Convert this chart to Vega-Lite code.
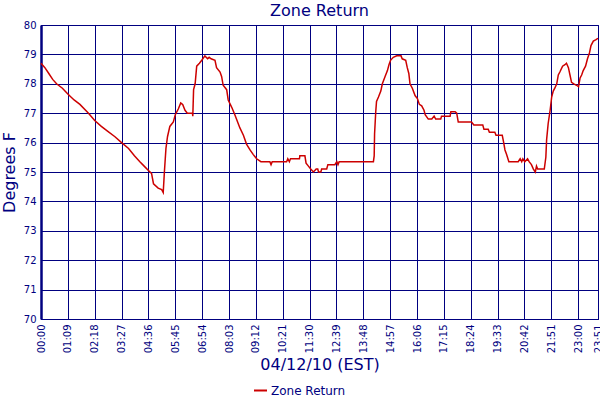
{
  "$schema": "https://vega.github.io/schema/vega-lite/v6.json",
  "width": 557,
  "height": 294,
  "autosize": "none",
  "padding": {"left": 41, "top": 25, "right": 2, "bottom": 81},
  "background": "white",
  "title": {
    "text": "Zone Return",
    "font": "DejaVu Sans",
    "fontSize": 16,
    "fontWeight": "normal",
    "color": "#000080",
    "anchor": "middle",
    "offset": 1
  },
  "config": {
    "view": {"stroke": "#000080", "strokeWidth": 1},
    "axis": {
      "labelFont": "DejaVu Sans",
      "labelFontSize": 10,
      "labelColor": "#000080",
      "titleFont": "DejaVu Sans",
      "titleFontSize": 16,
      "titleFontWeight": "normal",
      "titleColor": "#000080",
      "gridColor": "#000080",
      "gridOpacity": 1,
      "gridWidth": 1,
      "domainColor": "#000080",
      "ticks": false
    }
  },
  "data": {
    "values": [
      {"min": 0, "temp": 78.7}, {"min": 10, "temp": 78.55}, {"min": 20, "temp": 78.35},
      {"min": 30, "temp": 78.15}, {"min": 40, "temp": 78.0}, {"min": 55, "temp": 77.85},
      {"min": 69, "temp": 77.65}, {"min": 85, "temp": 77.45}, {"min": 100, "temp": 77.3},
      {"min": 122, "temp": 77.0}, {"min": 138, "temp": 76.75}, {"min": 155, "temp": 76.55},
      {"min": 170, "temp": 76.4}, {"min": 190, "temp": 76.2}, {"min": 207, "temp": 76.0},
      {"min": 225, "temp": 75.8}, {"min": 240, "temp": 75.55}, {"min": 254, "temp": 75.35},
      {"min": 265, "temp": 75.2}, {"min": 276, "temp": 75.05}, {"min": 284, "temp": 74.95},
      {"min": 289, "temp": 74.6}, {"min": 301, "temp": 74.45}, {"min": 310, "temp": 74.4},
      {"min": 314, "temp": 74.3}, {"min": 317, "temp": 75.0}, {"min": 321, "temp": 75.8},
      {"min": 325, "temp": 76.2}, {"min": 331, "temp": 76.55}, {"min": 340, "temp": 76.7},
      {"min": 345, "temp": 76.95}, {"min": 353, "temp": 77.15}, {"min": 359, "temp": 77.35},
      {"min": 364, "temp": 77.3}, {"min": 370, "temp": 77.1}, {"min": 376, "temp": 77.0},
      {"min": 389, "temp": 77.0}, {"min": 390, "temp": 76.9}, {"min": 392, "temp": 77.8},
      {"min": 396, "temp": 78.0}, {"min": 400, "temp": 78.6}, {"min": 407, "temp": 78.7},
      {"min": 413, "temp": 78.8}, {"min": 421, "temp": 78.95}, {"min": 428, "temp": 78.85},
      {"min": 432, "temp": 78.9}, {"min": 437, "temp": 78.85}, {"min": 447, "temp": 78.8},
      {"min": 451, "temp": 78.55}, {"min": 460, "temp": 78.4}, {"min": 464, "temp": 78.25},
      {"min": 468, "temp": 77.95}, {"min": 477, "temp": 77.8}, {"min": 481, "temp": 77.45},
      {"min": 490, "temp": 77.2}, {"min": 498, "temp": 76.95}, {"min": 511, "temp": 76.5},
      {"min": 520, "temp": 76.25}, {"min": 528, "temp": 75.95}, {"min": 537, "temp": 75.75},
      {"min": 545, "temp": 75.6}, {"min": 554, "temp": 75.45}, {"min": 565, "temp": 75.35},
      {"min": 588, "temp": 75.35}, {"min": 591, "temp": 75.25}, {"min": 594, "temp": 75.35},
      {"min": 631, "temp": 75.35}, {"min": 634, "temp": 75.45}, {"min": 638, "temp": 75.35},
      {"min": 641, "temp": 75.45}, {"min": 664, "temp": 75.45}, {"min": 665, "temp": 75.55},
      {"min": 678, "temp": 75.55}, {"min": 681, "temp": 75.3}, {"min": 687, "temp": 75.2},
      {"min": 693, "temp": 75.1}, {"min": 700, "temp": 75.0}, {"min": 707, "temp": 75.1},
      {"min": 711, "temp": 75.1}, {"min": 713, "temp": 75.0}, {"min": 719, "temp": 75.0},
      {"min": 721, "temp": 75.1}, {"min": 734, "temp": 75.1}, {"min": 737, "temp": 75.25},
      {"min": 755, "temp": 75.25}, {"min": 760, "temp": 75.35}, {"min": 763, "temp": 75.25},
      {"min": 766, "temp": 75.35}, {"min": 854, "temp": 75.35}, {"min": 856, "temp": 75.55},
      {"min": 857, "temp": 76.3}, {"min": 860, "temp": 77.05}, {"min": 862, "temp": 77.4},
      {"min": 867, "temp": 77.55}, {"min": 873, "temp": 77.75}, {"min": 877, "temp": 78.0},
      {"min": 884, "temp": 78.25}, {"min": 890, "temp": 78.45}, {"min": 894, "temp": 78.65},
      {"min": 898, "temp": 78.8}, {"min": 905, "temp": 78.9}, {"min": 914, "temp": 78.95},
      {"min": 925, "temp": 78.95}, {"min": 928, "temp": 78.85}, {"min": 937, "temp": 78.8},
      {"min": 941, "temp": 78.55}, {"min": 945, "temp": 78.35}, {"min": 948, "temp": 78.0},
      {"min": 954, "temp": 77.85}, {"min": 961, "temp": 77.6}, {"min": 967, "temp": 77.5},
      {"min": 972, "temp": 77.3}, {"min": 978, "temp": 77.25}, {"min": 984, "temp": 77.1},
      {"min": 987, "temp": 76.95}, {"min": 995, "temp": 76.8}, {"min": 1004, "temp": 76.8},
      {"min": 1010, "temp": 76.9}, {"min": 1014, "temp": 76.8}, {"min": 1027, "temp": 76.8},
      {"min": 1029, "temp": 76.9}, {"min": 1051, "temp": 76.9}, {"min": 1053, "temp": 77.05},
      {"min": 1064, "temp": 77.05}, {"min": 1068, "temp": 77.0}, {"min": 1072, "temp": 76.7},
      {"min": 1106, "temp": 76.7}, {"min": 1112, "temp": 76.6}, {"min": 1135, "temp": 76.6},
      {"min": 1138, "temp": 76.45}, {"min": 1149, "temp": 76.45}, {"min": 1152, "temp": 76.35},
      {"min": 1166, "temp": 76.35}, {"min": 1169, "temp": 76.25}, {"min": 1185, "temp": 76.25},
      {"min": 1188, "temp": 76.05}, {"min": 1192, "temp": 75.75}, {"min": 1196, "temp": 75.6},
      {"min": 1202, "temp": 75.35}, {"min": 1226, "temp": 75.35}, {"min": 1231, "temp": 75.45},
      {"min": 1235, "temp": 75.35}, {"min": 1238, "temp": 75.45}, {"min": 1243, "temp": 75.35},
      {"min": 1250, "temp": 75.45}, {"min": 1254, "temp": 75.35}, {"min": 1260, "temp": 75.25},
      {"min": 1265, "temp": 75.1}, {"min": 1270, "temp": 75.0}, {"min": 1273, "temp": 75.2},
      {"min": 1276, "temp": 75.1}, {"min": 1293, "temp": 75.1}, {"min": 1297, "temp": 75.5},
      {"min": 1299, "temp": 76.1}, {"min": 1303, "temp": 76.65}, {"min": 1308, "temp": 77.1},
      {"min": 1312, "temp": 77.55}, {"min": 1316, "temp": 77.75}, {"min": 1320, "temp": 77.85},
      {"min": 1325, "temp": 78.0}, {"min": 1329, "temp": 78.3}, {"min": 1333, "temp": 78.4},
      {"min": 1340, "temp": 78.6}, {"min": 1346, "temp": 78.65}, {"min": 1350, "temp": 78.7},
      {"min": 1355, "temp": 78.55}, {"min": 1359, "temp": 78.3}, {"min": 1363, "temp": 78.05},
      {"min": 1369, "temp": 78.0}, {"min": 1376, "temp": 77.95}, {"min": 1381, "temp": 77.9},
      {"min": 1385, "temp": 78.2}, {"min": 1389, "temp": 78.3}, {"min": 1393, "temp": 78.45},
      {"min": 1399, "temp": 78.6}, {"min": 1404, "temp": 78.85}, {"min": 1409, "temp": 79.05},
      {"min": 1413, "temp": 79.3}, {"min": 1419, "temp": 79.45}, {"min": 1426, "temp": 79.5},
      {"min": 1431, "temp": 79.55}
    ]
  },
  "mark": {"type": "line", "strokeWidth": 1.5, "interpolate": "linear"},
  "encoding": {
    "x": {
      "field": "min",
      "type": "quantitative",
      "scale": {"domain": [0, 1431], "nice": false, "zero": false},
      "axis": {
        "title": "04/12/10 (EST)",
        "values": [0, 69, 138, 207, 276, 345, 414, 483, 552, 621, 690, 759, 828, 897, 966, 1035, 1104, 1173, 1242, 1311, 1380, 1431],
        "labelExpr": "(floor(datum.value / 60) < 10 ? '0' : '') + floor(datum.value / 60) + ':' + (datum.value % 60 < 10 ? '0' : '') + (datum.value % 60)",
        "labelAngle": -90,
        "labelAlign": "right",
        "labelBaseline": "middle",
        "labelPadding": 5,
        "labelOverlap": false,
        "labelFlush": false,
        "titlePadding": 4,
        "domainWidth": 1
      }
    },
    "y": {
      "field": "temp",
      "type": "quantitative",
      "scale": {"domain": [70, 80], "nice": false, "zero": false},
      "axis": {
        "title": "Degrees F",
        "values": [70, 71, 72, 73, 74, 75, 76, 77, 78, 79, 80],
        "labelPadding": 5,
        "titlePadding": 6,
        "domainWidth": 2.5
      }
    },
    "color": {
      "datum": "Zone Return",
      "type": "nominal",
      "scale": {"range": ["#cc0000"]},
      "legend": {
        "title": null,
        "orient": "none",
        "legendX": 212,
        "legendY": 358,
        "padding": 0,
        "symbolType": "stroke",
        "symbolSize": 169,
        "symbolStrokeWidth": 2,
        "labelFont": "DejaVu Sans",
        "labelFontSize": 12,
        "labelColor": "#000080",
        "labelOffset": 3
      }
    }
  }
}
